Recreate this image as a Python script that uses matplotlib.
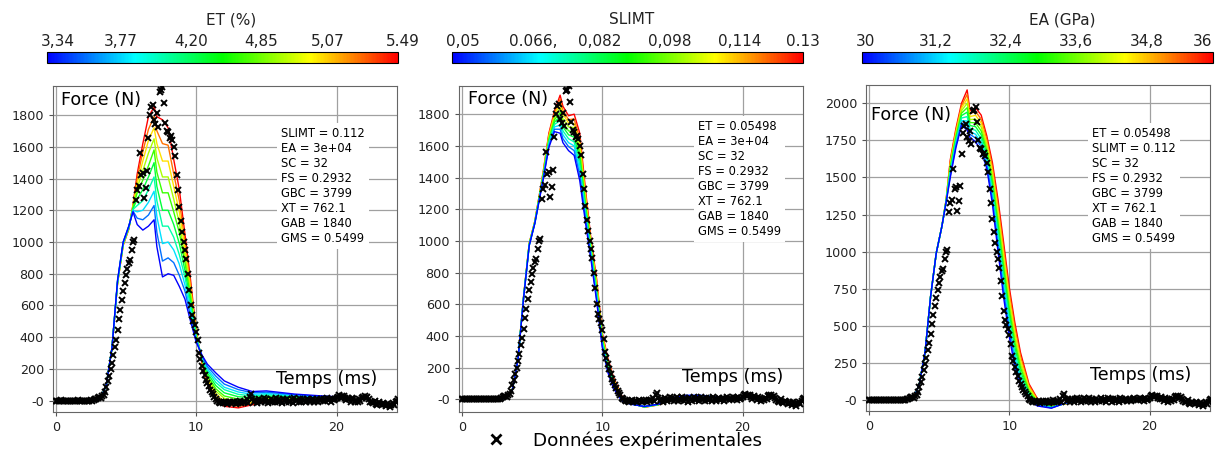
import numpy as np
import matplotlib.pyplot as plt
from matplotlib.colors import LinearSegmentedColormap, Normalize
from matplotlib.colorbar import ColorbarBase
from matplotlib.lines import Line2D

# time grid of the simulated curves (ms)
t_sim = [0, 2.8, 3.2, 3.6, 4.0, 4.4, 4.8, 5.2, 5.5, 5.8, 6.2, 6.6, 7.0, 7.2, 7.6, 8.0, 8.4,
         8.8, 9.2, 9.6, 10.0, 10.4, 10.8, 11.4, 12.0, 13.0, 14.0, 15.0, 16.0, 17.0, 18.0, 19.0, 20.0]

# experimental points, one every 0.1 ms from 0 to 24.4 ms
exp_t = np.round(np.arange(245) * 0.1, 1)
exp_f = [0, 1, -1, 0, 2, 0, -1, 0, 1, 0,
         0, -1, 0, 1, 0, 0, 2, -1, 0, 1,
         0, 0, -1, 1, 0, 2, 0, 5, 8, 12,
         18, 22, 15, 28, 35, 55, 88, 122, 158, 200,
         240, 285, 340, 385, 445, 515, 570, 635, 690, 740,
         790, 830, 870, 885, 950, 1000, 1010, 1265, 1330, 1350,
         1560, 1425, 1435, 1275, 1340, 1445, 1655, 1800, 1850, 1862,
         1770, 1745, 1810, 1725, 1945, 1955, 1975, 1875, 1750, 1700,
         1690, 1655, 1665, 1645, 1600, 1540, 1420, 1330, 1220, 1130,
         1060, 1000, 950, 890, 800, 700, 600, 540, 505, 480,
         435, 380, 300, 260, 220, 190, 160, 130, 110, 90,
         70, 55, 40, 25, 10,
         0, -5, -12, -8, -15, -10, -5, -18, -12, -8,
         -15, -5, -10, -20, -8, -12, -3, -15, -6, -10,
         -5, 8, -12, 25, 40, 10, -8, 5, -15, -3,
         10, -10, 5, 15, -5, 8, -12, 0, 12, -8,
         5, -5, 15, -10, 8, 0, -15, 10, 3, -8,
         12, -5, 0, 8, -12, 15, -3, 5, -10, 10,
         -5, 8, 0, -10, 12, 5, -8, 3, 10, -5,
         0, 10, -8, 5, 12, -3, 8, 0, 15, 5,
         10, -5, 12, 3, 8, 15, 25, 35, 20, 28,
         30, 15, 5, 20, 10, -5, 15, 8, -10, 5,
         -5, 10, 0, 18, 25, 30, 15, 22, 10, -5,
         -10, -15, 0, -20, -25, -10, -18, -30, -15, -22,
         -35, -20, -28, -40, -25, -15, -30, -10, 0, 8]

# ET sweep (blue -> red)
et_curves = [
    [0, 0, 15, 100, 330, 760, 1000, 1100, 1190, 1110, 1075, 1100, 1140, 970, 780, 800, 790, 720, 640, 500, 370, 290, 230, 175, 125, 85, 58, 62, 52, 42, 36, 30, 25],
    [0, 0, 15, 100, 330, 755, 1000, 1100, 1195, 1150, 1140, 1170, 1230, 1060, 880, 900, 870, 790, 690, 530, 380, 285, 215, 155, 105, 70, 50, 54, 46, 38, 32, 28, 23],
    [0, 0, 15, 100, 330, 755, 995, 1095, 1200, 1190, 1200, 1250, 1320, 1160, 990, 1000, 950, 860, 730, 560, 390, 280, 200, 135, 85, 55, 40, 45, 40, 33, 29, 25, 22],
    [0, 0, 15, 100, 330, 750, 995, 1095, 1205, 1230, 1260, 1330, 1410, 1260, 1100, 1100, 1030, 920, 780, 590, 400, 275, 190, 115, 70, 40, 30, 38, 34, 29, 25, 23, 20],
    [0, 0, 15, 100, 330, 750, 990, 1090, 1210, 1270, 1330, 1410, 1500, 1350, 1200, 1200, 1110, 990, 820, 620, 405, 270, 175, 95, 50, 25, 20, 30, 28, 24, 22, 20, 18],
    [0, 0, 15, 100, 330, 745, 990, 1090, 1215, 1310, 1390, 1480, 1580, 1440, 1310, 1310, 1190, 1060, 870, 650, 410, 265, 160, 75, 30, 10, 10, 22, 22, 20, 19, 18, 17],
    [0, 0, 15, 100, 330, 745, 985, 1090, 1220, 1340, 1450, 1560, 1650, 1530, 1410, 1410, 1270, 1120, 910, 680, 420, 260, 150, 60, 15, -5, 0, 15, 16, 15, 15, 15, 15],
    [0, 0, 15, 100, 330, 740, 985, 1085, 1225, 1370, 1510, 1640, 1720, 1620, 1510, 1510, 1350, 1190, 960, 700, 425, 255, 135, 40, -5, -20, -10, 8, 10, 11, 12, 13, 13],
    [0, 0, 15, 100, 330, 740, 980, 1085, 1230, 1400, 1570, 1710, 1790, 1700, 1620, 1610, 1430, 1260, 1000, 730, 430, 250, 120, 20, -20, -35, -18, 0, 5, 6, 8, 10, 12],
    [0, 0, 15, 100, 330, 740, 980, 1080, 1235, 1430, 1620, 1790, 1850, 1790, 1770, 1720, 1520, 1330, 1050, 760, 440, 240, 110, 0, -35, -45, -25, -5, 0, 2, 5, 8, 10],
]

# SLIMT sweep
slimt_curves = [
    [0, 0, 10, 60, 250, 640, 970, 1110, 1250, 1390, 1590, 1690, 1680, 1620, 1570, 1540, 1380, 1120, 880, 620, 330, 170, 70, -10, -30, -45, -30, 10, 25, 25, 15, 10, 5],
    [0, 0, 10, 60, 251, 641, 972, 1112, 1253, 1395, 1600, 1705, 1705, 1645, 1595, 1570, 1415, 1145, 895, 635, 340, 180, 78, -7, -29, -46, -31, 9, 24, 24, 15, 10, 5],
    [0, 0, 10, 60, 252, 642, 973, 1113, 1256, 1400, 1610, 1720, 1730, 1670, 1620, 1600, 1450, 1165, 910, 650, 350, 190, 85, -3, -28, -46, -31, 8, 23, 24, 14, 10, 5],
    [0, 0, 10, 60, 253, 643, 975, 1115, 1260, 1406, 1620, 1735, 1760, 1695, 1645, 1625, 1480, 1190, 925, 665, 360, 200, 93, 0, -27, -47, -32, 7, 22, 23, 14, 9, 5],
    [0, 0, 10, 60, 254, 644, 977, 1117, 1263, 1412, 1630, 1750, 1785, 1720, 1670, 1655, 1515, 1215, 940, 680, 370, 210, 100, 3, -26, -47, -32, 6, 21, 23, 14, 9, 5],
    [0, 0, 10, 60, 256, 646, 978, 1118, 1266, 1418, 1640, 1765, 1810, 1745, 1695, 1685, 1550, 1235, 950, 700, 380, 220, 108, 7, -24, -48, -33, 4, 19, 22, 13, 9, 5],
    [0, 0, 10, 60, 257, 647, 980, 1120, 1270, 1424, 1650, 1780, 1840, 1770, 1720, 1715, 1580, 1260, 965, 715, 390, 230, 116, 10, -23, -48, -33, 3, 18, 22, 13, 9, 5],
    [0, 0, 10, 60, 258, 648, 982, 1122, 1273, 1430, 1660, 1795, 1865, 1800, 1745, 1740, 1615, 1285, 980, 730, 400, 240, 124, 13, -22, -49, -34, 2, 17, 21, 13, 8, 5],
    [0, 0, 10, 60, 259, 649, 983, 1123, 1276, 1435, 1670, 1808, 1895, 1825, 1765, 1770, 1645, 1305, 995, 745, 410, 250, 132, 17, -21, -49, -34, 1, 16, 21, 12, 8, 5],
    [0, 0, 10, 60, 260, 650, 985, 1125, 1280, 1440, 1680, 1820, 1920, 1850, 1790, 1800, 1680, 1330, 1010, 760, 420, 260, 140, 20, -20, -50, -35, 0, 15, 20, 12, 8, 5],
]

# EA sweep
ea_curves = [
    [0, 0, 10, 110, 320, 700, 990, 1170, 1330, 1500, 1700, 1850, 1820, 1770, 1740, 1680, 1560, 1320, 1000, 690, 430, 220, 90, 0, -40, -55, -20, 0, 5, 5, 5, 5, 5],
    [0, 0, 10, 110, 320, 700, 990, 1170, 1332, 1513, 1714, 1867, 1850, 1790, 1766, 1707, 1584, 1351, 1039, 731, 467, 253, 116, 12, -34, -53, -21, -1, 4, 4, 4, 4, 4],
    [0, 0, 10, 110, 320, 700, 990, 1170, 1334, 1527, 1729, 1883, 1880, 1810, 1791, 1733, 1609, 1382, 1078, 772, 503, 287, 141, 24, -29, -52, -21, -1, 4, 4, 4, 4, 4],
    [0, 0, 10, 110, 320, 700, 990, 1170, 1336, 1540, 1743, 1900, 1910, 1830, 1817, 1760, 1633, 1413, 1117, 813, 540, 320, 167, 37, -23, -50, -22, -2, 3, 3, 3, 3, 3],
    [0, 0, 10, 110, 320, 700, 990, 1170, 1338, 1553, 1758, 1917, 1940, 1850, 1842, 1787, 1658, 1444, 1156, 854, 577, 353, 192, 49, -18, -48, -22, -2, 3, 3, 3, 3, 3],
    [0, 0, 10, 110, 320, 700, 990, 1170, 1340, 1567, 1772, 1933, 1970, 1870, 1868, 1813, 1682, 1476, 1194, 896, 613, 387, 218, 61, -12, -47, -23, -3, 2, 2, 2, 2, 2],
    [0, 0, 10, 110, 320, 700, 990, 1170, 1342, 1580, 1787, 1950, 2000, 1890, 1893, 1840, 1707, 1507, 1233, 937, 650, 420, 243, 73, -7, -45, -23, -3, 2, 2, 2, 2, 2],
    [0, 0, 10, 110, 320, 700, 990, 1170, 1344, 1593, 1801, 1967, 2030, 1910, 1919, 1867, 1731, 1538, 1272, 978, 687, 453, 269, 86, -1, -43, -24, -4, 1, 1, 1, 1, 1],
    [0, 0, 10, 110, 320, 700, 990, 1170, 1346, 1607, 1816, 1983, 2060, 1930, 1944, 1893, 1756, 1569, 1311, 1019, 723, 487, 294, 98, 4, -42, -24, -4, 1, 1, 1, 1, 1],
    [0, 0, 10, 110, 320, 700, 990, 1170, 1348, 1620, 1830, 2000, 2090, 1950, 1970, 1920, 1780, 1600, 1350, 1060, 760, 520, 320, 110, 10, -40, -25, -5, 0, 0, 0, 0, 0],
]

# colorbar texts and where their labels sit along the bar
et_labels = ['3,34', '3,77', '4,20', '4,85', '5,07', '5.49']
slimt_labels = ['0,05', '0.066,', '0,082', '0,098', '0,114', '0.13']
ea_labels = ['30', '31,2', '32,4', '33,6', '34,8', '36']
et_lpos = [0.03, 0.21, 0.41, 0.61, 0.80, 1.015]
slimt_lpos = [0.03, 0.23, 0.42, 0.62, 0.82, 1.0]
ea_lpos = [0.01, 0.21, 0.41, 0.61, 0.81, 0.97]

params_et = ['SLIMT = 0.112', 'EA = 3e+04', 'SC = 32', 'FS = 0.2932', 'GBC = 3799', 'XT = 762.1', 'GAB = 1840', 'GMS = 0.5499']
params_slimt = ['ET = 0.05498', 'EA = 3e+04', 'SC = 32', 'FS = 0.2932', 'GBC = 3799', 'XT = 762.1', 'GAB = 1840', 'GMS = 0.5499']
params_ea = ['ET = 0.05498', 'SLIMT = 0.112', 'SC = 32', 'FS = 0.2932', 'GBC = 3799', 'XT = 762.1', 'GAB = 1840', 'GMS = 0.5499']

yticks_a = [0, 200, 400, 600, 800, 1000, 1200, 1400, 1600, 1800]
yticks_b = [0, 250, 500, 750, 1000, 1250, 1500, 1750, 2000]
xticks = [0, 10, 20]

cmap = LinearSegmentedColormap.from_list('bcgyr', ['#0000ff', '#00ffff', '#00ff00', '#ffff00', '#ff0000'])

fig = plt.figure(figsize=(12.26, 4.49), dpi=100)

# axes rect, colorbar rect, curves, params, cbar labels, label pos, title, title x (px), yticks, ylim, text positions
panels = [
    ([0.0432, 0.0824, 0.2806, 0.7261], [0.0383, 0.8597, 0.2863, 0.0245], et_curves, params_et,
     et_labels, et_lpos, 'ET (%)', 231, yticks_a, (-71, 1983), (0.023, 0.957), (0.648, 0.101), (0.663, 0.874)),
    ([0.3744, 0.0824, 0.2806, 0.7261], [0.3687, 0.8597, 0.2863, 0.0245], slimt_curves, params_slimt,
     slimt_labels, slimt_lpos, 'SLIMT', 632, yticks_a, (-80, 1978), (0.026, 0.960), (0.648, 0.107), (0.695, 0.896)),
    ([0.7064, 0.0846, 0.2806, 0.7261], [0.7031, 0.8597, 0.2863, 0.0245], ea_curves, params_ea,
     ea_labels, ea_lpos, 'EA (GPa)', 1062, yticks_b, (-74, 2123), (0.015, 0.908), (0.651, 0.110), (0.657, 0.871)),
]

for rect, crect, curves, params, clabels, lpos, ctitle, tx, yt, ylim, fpos, tpos, ppos in panels:
    ax = fig.add_axes(rect)
    n = len(curves)
    # red first, blue last so blue sits on top where they overlap
    for i in range(n - 1, -1, -1):
        ax.plot(t_sim, curves[i], color=cmap(i / (n - 1)), lw=1.0, zorder=2)
    ax.plot(exp_t, exp_f, ls='none', marker='x', color='k', ms=5, mew=1.4, zorder=3)
    ax.set_xlim(-0.2, 24.3)
    ax.set_ylim(*ylim)
    ax.set_xticks(xticks)
    ax.set_yticks(yt, ['-0'] + [str(v) for v in yt[1:]])
    ax.tick_params(labelsize=9.2, length=3, color='#555555', labelcolor='#222222')
    ax.grid(True, color='#a0a0a0', lw=0.9)
    ax.set_axisbelow(True)
    for s in ax.spines.values():
        s.set_color('#666666')
        s.set_linewidth(0.8)
    ax.text(fpos[0], fpos[1], 'Force (N)', transform=ax.transAxes, fontsize=12.6, va='center', ha='left')
    ax.text(tpos[0], tpos[1], 'Temps (ms)', transform=ax.transAxes, fontsize=12.6, va='center', ha='left')
    ax.text(ppos[0], ppos[1], '\n'.join(params), transform=ax.transAxes, fontsize=8.3, va='top', ha='left',
            linespacing=1.2, bbox=dict(facecolor='white', edgecolor='none', pad=3), zorder=4)

    cax = fig.add_axes(crect)
    cb = ColorbarBase(cax, cmap=cmap, norm=Normalize(0, 1), orientation='horizontal')
    cb.set_ticks([])
    cb.outline.set_linewidth(0.8)
    for lab, p in zip(clabels, lpos):
        cax.text(p, 1.59, lab, transform=cax.transAxes, ha='center', va='baseline',
                 fontsize=11, color='#222222', clip_on=False)
    fig.text(tx / 1226, 0.9555, ctitle, fontsize=11, ha='center', va='center', color='#222222')

h = Line2D([], [], ls='none', marker='x', color='k', ms=7, mew=2)
fig.legend([h], ['Données expérimentales'], loc='center', bbox_to_anchor=(0.5057, 0.019),
           frameon=False, fontsize=13.2, handletextpad=1.0)

plt.savefig('out.png', dpi=100)
